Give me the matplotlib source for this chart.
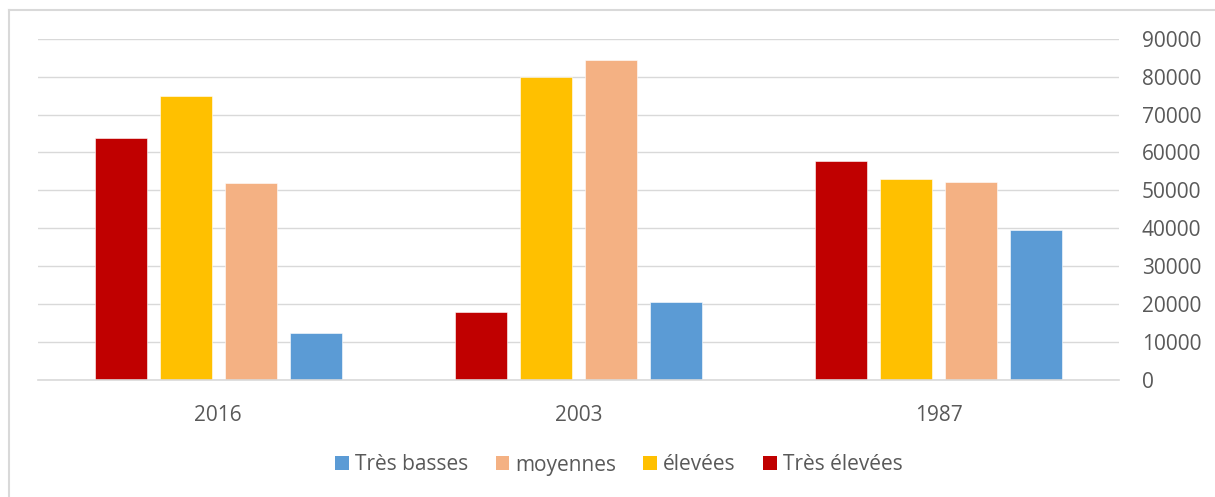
import matplotlib
matplotlib.use("Agg")
import matplotlib.pyplot as plt
from matplotlib.patches import Patch
from matplotlib.lines import Line2D
import numpy as np

plt.rcParams['font.family'] = ['Open Sans', 'DejaVu Sans']

years = ["2016", "2003", "1987"]
series_names = ["Très élevées", "élevées", "moyennes", "Très basses"]
tres_elevees = [63800, 17800, 57800]
elevees = [74800, 79900, 53000]
moyennes = [51900, 84400, 52200]
tres_basses = [12400, 20600, 39600]
colors = ["#C00000", "#FFC000", "#F4B183", "#5B9BD5"]
yticks = list(range(0, 90001, 10000))

W, H = 1215, 497
fig = plt.figure(figsize=(W / 100, H / 100), dpi=100)
ax = fig.add_axes([38 / W, (H - 380) / H, (1119 - 38) / W, (380 - 38.7) / H])

x = np.arange(len(years))
width = 52 / 360
step = 65 / 360
values = [tres_elevees, elevees, moyennes, tres_basses]
for i, (vals, col) in enumerate(zip(values, colors)):
    ax.bar(x + (i - 1.5) * step, vals, width=width, color=col, zorder=3,
           edgecolor="white", linewidth=0.4)

ax.set_xlim(-0.5, len(years) - 0.5)
ax.set_ylim(0, 90000)
ax.set_yticks(yticks)
ax.set_yticklabels([str(v) for v in yticks])
ax.yaxis.tick_right()
ax.set_xticks(x)
ax.set_xticklabels(years)
ax.grid(axis="y", color="#d9d9d9", linewidth=1.0, zorder=0)
ax.axhline(0, color="#d9d9d9", linewidth=1.2, zorder=4, clip_on=False)
for s in ax.spines.values():
    s.set_visible(False)
ax.tick_params(axis="y", length=0, pad=16.5, labelsize=15, labelcolor="#595959")
ax.tick_params(axis="x", length=0, pad=18, labelsize=15, labelcolor="#595959")

# legend in reverse series order
handles = [Patch(facecolor=c, edgecolor="none") for c in colors[::-1]]
labels = series_names[::-1]
fig.legend(handles, labels, loc="center", bbox_to_anchor=(619 / W, (H - 465) / H),
           ncol=4, frameon=False, fontsize=15, labelcolor="#595959",
           handlelength=0.65, handleheight=0.65, handletextpad=0.3,
           columnspacing=1.3)

# chart area border
fig.add_artist(Line2D([9 / W, 1], [(H - 10) / H, (H - 10) / H], color="#d9d9d9",
                      linewidth=1.5, transform=fig.transFigure))
fig.add_artist(Line2D([9 / W, 9 / W], [0, (H - 10) / H], color="#d9d9d9",
                      linewidth=1.5, transform=fig.transFigure))

fig.savefig("out.png", dpi=100, facecolor="white")
